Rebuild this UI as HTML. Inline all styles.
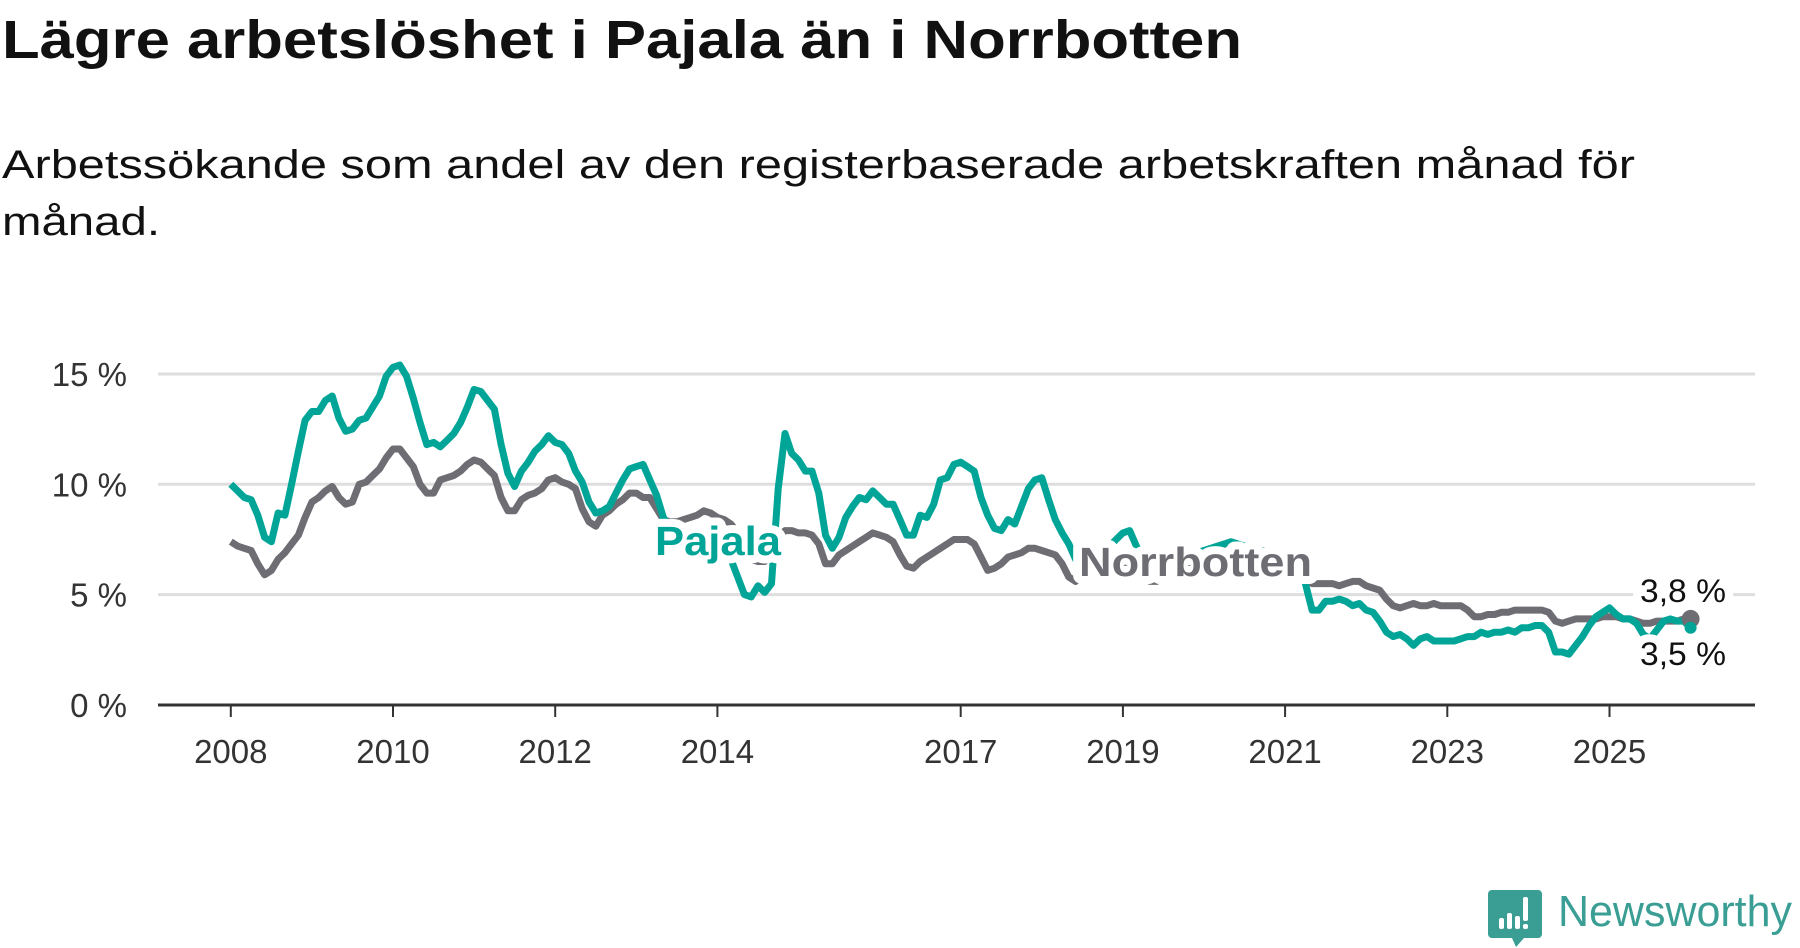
<!DOCTYPE html>
<html><head><meta charset="utf-8">
<style>
html,body{margin:0;padding:0;background:#fff;}
svg{display:block;font-family:"Liberation Sans",sans-serif;}
</style></head>
<body>
<svg id="chart" width="1800" height="948" viewBox="0 0 1800 948" xmlns="http://www.w3.org/2000/svg">
<text x="2" y="58" font-size="54" font-weight="bold" fill="#111" textLength="1240" lengthAdjust="spacingAndGlyphs">Lägre arbetslöshet i Pajala än i Norrbotten</text>
<text x="2" y="178" font-size="40" fill="#111" textLength="1633" lengthAdjust="spacingAndGlyphs">Arbetssökande som andel av den registerbaserade arbetskraften månad för</text>
<text x="2" y="235" font-size="40" fill="#111" textLength="158" lengthAdjust="spacingAndGlyphs">månad.</text>
<g id="grid"></g>
<g id="axes"></g>
<g id="lines"></g>
<g id="labels"></g>
<g>
<path d="M1492 890 h46 a4 4 0 0 1 4 4 v40 a4 4 0 0 1 -4 4 h-14 l-8 9 l-4 -9 h-20 a4 4 0 0 1 -4 -4 v-40 a4 4 0 0 1 4 -4z" fill="#3a9e95"/>
<rect x="1499" y="918" width="5" height="11" rx="2" fill="#fff"/>
<rect x="1507" y="913" width="5" height="16" rx="2" fill="#fff"/>
<rect x="1515" y="916" width="5" height="13" rx="2" fill="#fff"/>
<rect x="1523" y="897" width="5" height="24" rx="2" fill="#fff"/>
<rect x="1523" y="924" width="5" height="5" rx="2" fill="#fff"/>
<text x="1558" y="926" font-size="44" fill="#3a9e95" textLength="234" lengthAdjust="spacingAndGlyphs">Newsworthy</text>
</g>
</svg>
<script>
const yTicks = [0, 5, 10, 15];
const yTickLabels = ["0 %", "5 %", "10 %", "15 %"];
const xTicks = [2008, 2010, 2012, 2014, 2017, 2019, 2021, 2023, 2025];
const startYear = 2008;
const pajala = [
10,9.7,9.4,9.3,8.6,7.6,7.4,8.7,8.6,10,11.5,12.9,
13.3,13.3,13.8,14.0,13.0,12.4,12.5,12.9,13.0,13.5,14.0,14.9,
15.3,15.4,14.9,13.9,12.8,11.8,11.9,11.7,12.0,12.3,12.8,13.5,
14.3,14.2,13.8,13.4,11.8,10.5,9.9,10.6,11.0,11.5,11.8,12.2,
11.9,11.8,11.4,10.6,10.1,9.2,8.7,8.8,9.0,9.6,10.2,10.7,
10.8,10.9,10.2,9.5,8.5,8.0,7.6,7.2,7.0,7.2,7.6,7.8,
7.6,7.2,6.6,5.8,5.0,4.9,5.4,5.1,5.5,9.8,12.3,11.4,
11.1,10.6,10.6,9.6,7.7,7.1,7.6,8.5,9.0,9.4,9.3,9.7,
9.4,9.1,9.1,8.4,7.7,7.7,8.6,8.5,9.1,10.2,10.3,10.9,
11.0,10.8,10.6,9.4,8.6,8.0,7.9,8.4,8.2,9.0,9.8,10.2,
10.3,9.3,8.4,7.8,7.3,6.6,6.2,6.0,6.1,6.5,7.2,7.5,
7.8,7.9,7.2,6.6,6.0,6.0,6.2,6.4,6.6,6.8,6.8,6.9,
7.0,7.1,7.2,7.3,7.4,7.3,7.2,7.1,7.0,7.0,6.9,6.8,
6.6,6.5,6.3,5.5,4.3,4.3,4.7,4.7,4.8,4.7,4.5,4.6,
4.3,4.2,3.8,3.3,3.1,3.2,3.0,2.7,3.0,3.1,2.9,2.9,
2.9,2.9,3.0,3.1,3.1,3.3,3.2,3.3,3.3,3.4,3.3,3.5,
3.5,3.6,3.6,3.3,2.4,2.4,2.3,2.7,3.1,3.6,4.0,4.2,
4.4,4.1,3.9,3.9,3.7,3.2,3.0,3.4,3.8,3.9,3.8,3.8,
3.5];
const norrbotten = [
7.4,7.2,7.1,7.0,6.4,5.9,6.1,6.6,6.9,7.3,7.7,8.5,
9.2,9.4,9.7,9.9,9.4,9.1,9.2,10.0,10.1,10.4,10.7,11.2,
11.6,11.6,11.2,10.8,10.0,9.6,9.6,10.2,10.3,10.4,10.6,10.9,
11.1,11.0,10.7,10.4,9.4,8.8,8.8,9.3,9.5,9.6,9.8,10.2,
10.3,10.1,10.0,9.8,8.9,8.3,8.1,8.6,8.8,9.1,9.3,9.6,
9.6,9.4,9.4,8.9,8.4,8.3,8.3,8.4,8.5,8.6,8.8,8.7,
8.5,8.4,8.2,7.8,7.2,6.6,6.5,6.5,7.0,7.6,7.9,7.9,
7.8,7.8,7.7,7.3,6.4,6.4,6.8,7.0,7.2,7.4,7.6,7.8,
7.7,7.6,7.4,6.8,6.3,6.2,6.5,6.7,6.9,7.1,7.3,7.5,
7.5,7.5,7.3,6.7,6.1,6.2,6.4,6.7,6.8,6.9,7.1,7.1,
7.0,6.9,6.8,6.4,5.8,5.6,5.8,6.0,6.1,6.2,6.3,6.4,
6.3,6.2,6.1,5.9,5.6,5.6,5.8,5.9,6.0,6.1,6.2,6.3,
6.4,6.6,6.8,7.0,7.0,6.9,6.8,6.8,6.7,6.7,6.6,6.6,
6.5,6.4,6.2,5.8,5.5,5.5,5.5,5.5,5.4,5.5,5.6,5.6,
5.4,5.3,5.2,4.8,4.5,4.4,4.5,4.6,4.5,4.5,4.6,4.5,
4.5,4.5,4.5,4.3,4.0,4.0,4.1,4.1,4.2,4.2,4.3,4.3,
4.3,4.3,4.3,4.2,3.8,3.7,3.8,3.9,3.9,3.9,3.9,4.0,
4.0,4.0,3.9,3.9,3.8,3.7,3.7,3.8,3.8,3.8,3.8,3.9,
3.9];
const lastLabels = ["3,8 %", "3,5 %"];

const NS = "http://www.w3.org/2000/svg";
const X0 = 230.8, PX_YEAR = 81.1, Y0 = 705, PX_PCT = 22.07;
function xScale(yr){ return X0 + (yr - startYear) * PX_YEAR; }
function yScale(v){ return Y0 - v * PX_PCT; }
function mk(tag, attrs, parent){ const e = document.createElementNS(NS, tag); for (const k in attrs) e.setAttribute(k, attrs[k]); parent.appendChild(e); return e; }

const grid = document.getElementById('grid');
yTicks.forEach((t, i) => {
  if (t > 0) {
    const l = mk('line', {x1:158, x2:1755, y1:yScale(t), y2:yScale(t), stroke:'#dedede', 'stroke-width':3}, grid);
    
    
  }
  const tx = mk('text', {x:127, y:yScale(t)+12, 'text-anchor':'end', 'font-size':33, fill:'#333'}, grid);
  tx.textContent = yTickLabels[i];
  
  
});
const axes = document.getElementById('axes');
const ax = mk('line', {x1:158, x2:1755, y1:Y0, y2:Y0, stroke:'#333', 'stroke-width':3}, axes);


xTicks.forEach(yr => {
  const x = xScale(yr);
  const tk = mk('line', {x1:x, x2:x, y1:Y0, y2:Y0+12, stroke:'#333', 'stroke-width':2}, axes);
  
  
  const tx = mk('text', {x:x, y:763, 'text-anchor':'middle', 'font-size':33, fill:'#333'}, axes);
  tx.textContent = yr;
  
  
});

const lines = document.getElementById('lines');
function path(arr){ return arr.map((v,i) => (i ? 'L' : 'M') + xScale(startYear + i/12).toFixed(1) + ' ' + yScale(v).toFixed(1)).join(' '); }
const gl = mk('path', {d:path(norrbotten), fill:'none', stroke:'#6e6d73', 'stroke-width':7, 'stroke-linejoin':'round'}, lines);


const tl = mk('path', {d:path(pajala), fill:'none', stroke:'#00a598', 'stroke-width':7, 'stroke-linejoin':'round'}, lines);


const gd = mk('circle', {cx:xScale(startYear+(norrbotten.length-1)/12), cy:yScale(norrbotten[norrbotten.length-1]), r:9, fill:'#6e6d73'}, lines);


const td = mk('circle', {cx:xScale(startYear+(pajala.length-1)/12), cy:yScale(pajala[pajala.length-1]), r:6, fill:'#00a598'}, lines);



const labels = document.getElementById('labels');
function label(txt, x, y, color, size, weight, name, len){
  const t = mk('text', {x:x, y:y, fill:color, 'font-size':size, 'font-weight':weight, stroke:'#fff', 'stroke-width':16, 'stroke-linejoin':'round', 'paint-order':'stroke'}, labels);
  if (len) { t.setAttribute('textLength', len); t.setAttribute('lengthAdjust', 'spacingAndGlyphs'); }
  t.textContent = txt;
  
  
}
label('Pajala', 655, 555, '#00a598', 41, 'bold', 'pajala-label', 126);
label('Norrbotten', 1079, 576, '#6e6d73', 41, 'bold', 'norrbotten-label', 233);
label(lastLabels[0], 1640, 602, '#111', 32, 'normal', 'norrbotten-value-label', 86);
label(lastLabels[1], 1640, 665, '#111', 32, 'normal', 'pajala-value-label', 86);
</script>
</body></html>
